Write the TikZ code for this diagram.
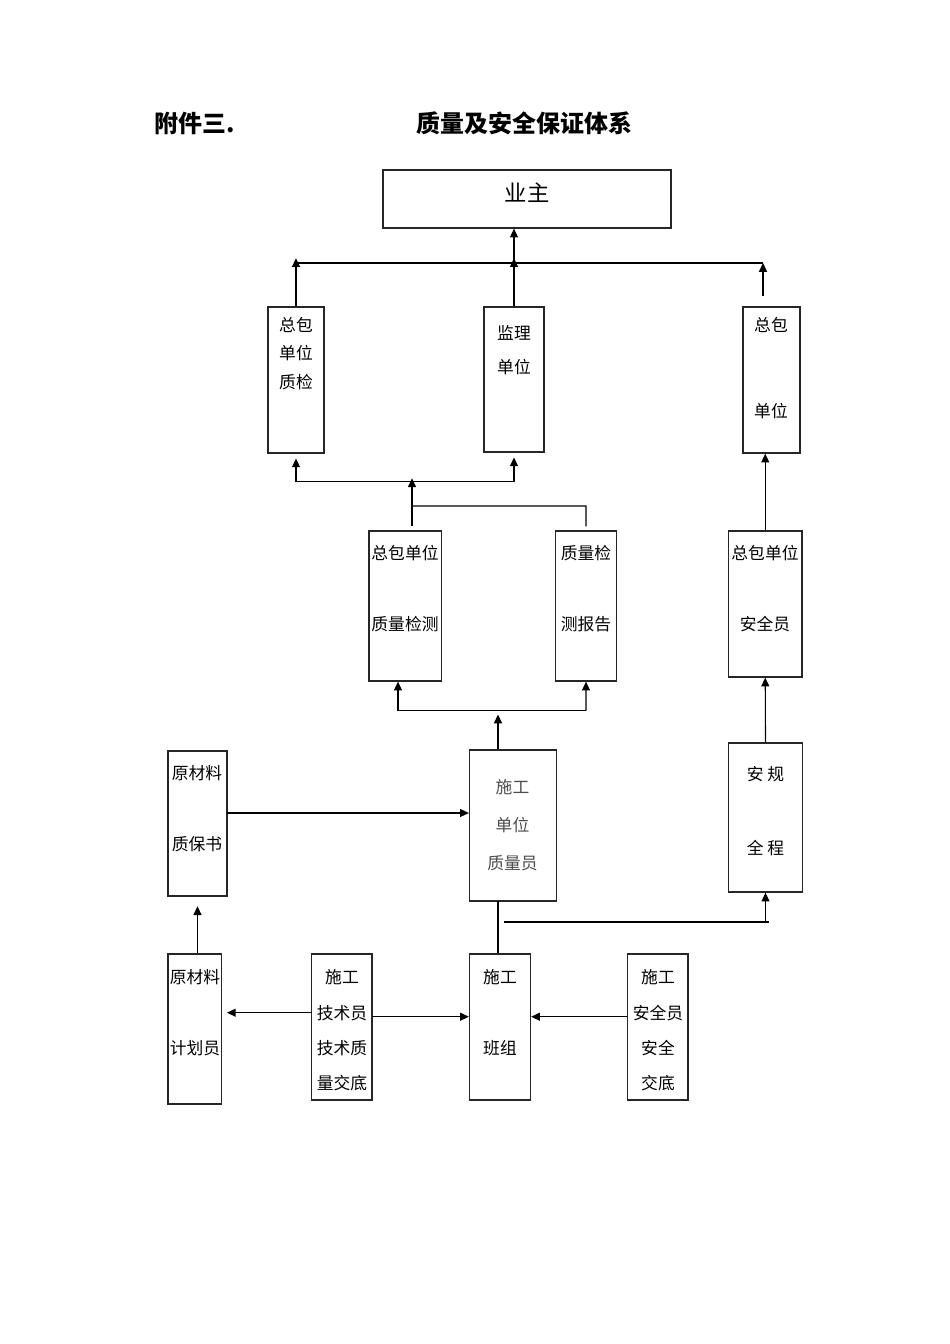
\documentclass[tikz,border=0pt]{standalone}
\usepackage{fontspec}
\setmainfont{Noto Sans CJK SC}
\usetikzlibrary{arrows.meta,fit}

\tikzset{
  box/.style={draw=black!85, line width=0.8pt, inner sep=0pt},
  txt/.style={font=\fontsize{10.5pt}{12pt}\selectfont, inner sep=0pt},
  arr/.style={-{Triangle[length=5.5pt,width=5pt]}}
}

\begin{document}
\begin{tikzpicture}[x=0.6263pt, y=-0.6263pt, line width=0.7pt] % 1 unit = 1 px of the page
  \useasboundingbox (0,0) rectangle (950,1344);

  % Title
  \node[font=\fontsize{15pt}{18pt}\selectfont\bfseries, anchor=west, inner sep=0pt] (fujian) at (154,123) {附件三.};
  \node[font=\fontsize{15pt}{18pt}\selectfont\bfseries, anchor=west, inner sep=0pt] (title) at (416,123) {质量及安全保证体系};

  % Boxes
  \node[box, fit={(383,170) (671,228)}] (yz) {};
  \node[box, fit={(268,307) (324,453)}] (zj) {};
  \node[box, fit={(484,307) (544,452)}] (jl) {};
  \node[box, fit={(743,307) (800,453)}] (zbdw) {};
  \node[box, fit={(369,531) (441.5,681)}] (zbjc) {};
  \node[box, fit={(555.5,531) (616.5,681)}] (jcbg) {};
  \node[box, fit={(728.5,531) (802,677)}] (zbaq) {};
  \node[box, fit={(469.5,750) (556.5,901)}] (sg) {};
  \node[box, fit={(728.5,743) (802.5,892)}] (agqc) {};
  \node[box, fit={(168,751) (227,896)}] (ycz) {};
  \node[box, fit={(168,954) (221.5,1104)}] (ycj) {};
  \node[box, fit={(311.5,954) (372,1100)}] (sgjs) {};
  \node[box, fit={(469.5,954) (530.5,1100)}] (sgbz) {};
  \node[box, fit={(627.5,954) (688,1100)}] (sgaq) {};

  % Labels
  \node[txt, font=\fontsize{14pt}{16pt}\selectfont] (yz-t) at (527,193) {业主};
  \foreach \t/\y in {总包/325, 单位/353, 质检/382}
    \node[txt] (zj-\y) at (296,\y) {\t};
  \foreach \t/\y in {监理/333, 单位/367}
    \node[txt] (jl-\y) at (514,\y) {\t};
  \foreach \t/\y in {总包/325, 单位/411}
    \node[txt] (zbdw-\y) at (771,\y) {\t};
  \foreach \t/\y in {总包单位/553, 质量检测/624}
    \node[txt] (zbjc-\y) at (405,\y) {\t};
  \foreach \t/\y in {质量检/553, 测报告/624}
    \node[txt] (jcbg-\y) at (586,\y) {\t};
  \foreach \t/\y in {总包单位/553, 安全员/624}
    \node[txt] (zbaq-\y) at (765,\y) {\t};
  \foreach \t/\y in {施工/787, 单位/825, 质量员/863}
    \node[txt, text=black!70] (sg-\y) at (512.5,\y) {\t};
  \foreach \t/\y in {安\ 规/774, 全\ 程/848}
    \node[txt] (agqc-\y) at (765.5,\y) {\t};
  \foreach \t/\y in {原材料/773, 质保书/844}
    \node[txt] (ycz-\y) at (197,\y) {\t};
  \foreach \t/\y in {原材料/977, 计划员/1048}
    \node[txt] (ycj-\y) at (195,\y) {\t};
  \foreach \t/\y in {施工/977, 技术员/1013, 技术质/1048, 量交底/1083}
    \node[txt] (sgjs-\y) at (342,\y) {\t};
  \foreach \t/\y in {施工/977, 班组/1048}
    \node[txt] (sgbz-\y) at (500,\y) {\t};
  \foreach \t/\y in {施工/977, 安全员/1013, 安全/1048, 交底/1083}
    \node[txt] (sgaq-\y) at (658,\y) {\t};

  % Top bus to owner
  \coordinate (busL) at (296,263);
  \coordinate (busR) at (763,263);
  \coordinate (rtop) at (763,296);
  \draw (busL) -- (busR);
  \draw[arr, shorten >=-3pt] (zj.north) -- (busL);
  \draw[arr, shorten >=-3pt] (jl.north) -- (jl.north |- busL);
  \draw[arr] (jl.north |- busL) -- (jl.north |- yz.south);
  \draw[arr] (rtop) -- (busR);

  % Quality inspection bus
  \coordinate (m1L) at (296,481.5);
  \coordinate (m1R) at (514,481.5);
  \coordinate (m1C) at (412,481.5);
  \coordinate (j1) at (412,506);
  \coordinate (j2) at (586,506);
  \draw (m1L) -- (m1R);
  \draw[arr, shorten >=3pt] (m1L) -- (zj.south);
  \draw[arr, shorten >=3pt] (m1R) -- (jl.south);
  \draw[arr, shorten <=2.5pt, shorten >=-2pt] (m1C |- zbjc.north) -- (m1C);
  \draw[shorten >=2.5pt] (j1) -- (j2) -- (jcbg.north);

  % Construction quality bus
  \coordinate (m2L) at (398,710.5);
  \coordinate (m2R) at (586,710.5);
  \coordinate (m2C) at (498,710.5);
  \draw (m2L) -- (m2R);
  \draw[arr] (m2L) -- (m2L |- zbjc.south);
  \draw[arr] (m2R) -- (jcbg.south);
  \draw[arr, shorten >=2.5pt] (m2C |- sg.north) -- (m2C);

  % Safety column
  \draw[arr] (agqc.north) -- (zbaq.south);
  \draw[arr] (zbaq.north) -- (zbaq.north |- zbdw.south);

  % Lower part
  \coordinate (qa) at (227,813);
  \draw[arr] (qa) -- (qa -| sg.west);
  \coordinate (sb) at (498,901);
  \draw (sb) -- (sb |- sgbz.north);
  \coordinate (ha) at (504,922);
  \coordinate (hb) at (769,922);
  \draw (ha) -- (hb);
  \draw[arr] (ha -| agqc.south) -- (agqc.south);
  \draw[arr, shorten >=6pt] (ycz.south |- ycj.north) -- (ycz.south);
  \coordinate (tl) at (311.5,1012.7);
  \draw[arr, shorten >=3pt] (tl) -- (tl -| ycj.east);
  \coordinate (tr) at (372,1016.7);
  \draw[arr] (tr) -- (tr -| sgbz.west);
  \draw[arr] (tr -| sgaq.west) -- (tr -| sgbz.east);
\end{tikzpicture}
\end{document}
